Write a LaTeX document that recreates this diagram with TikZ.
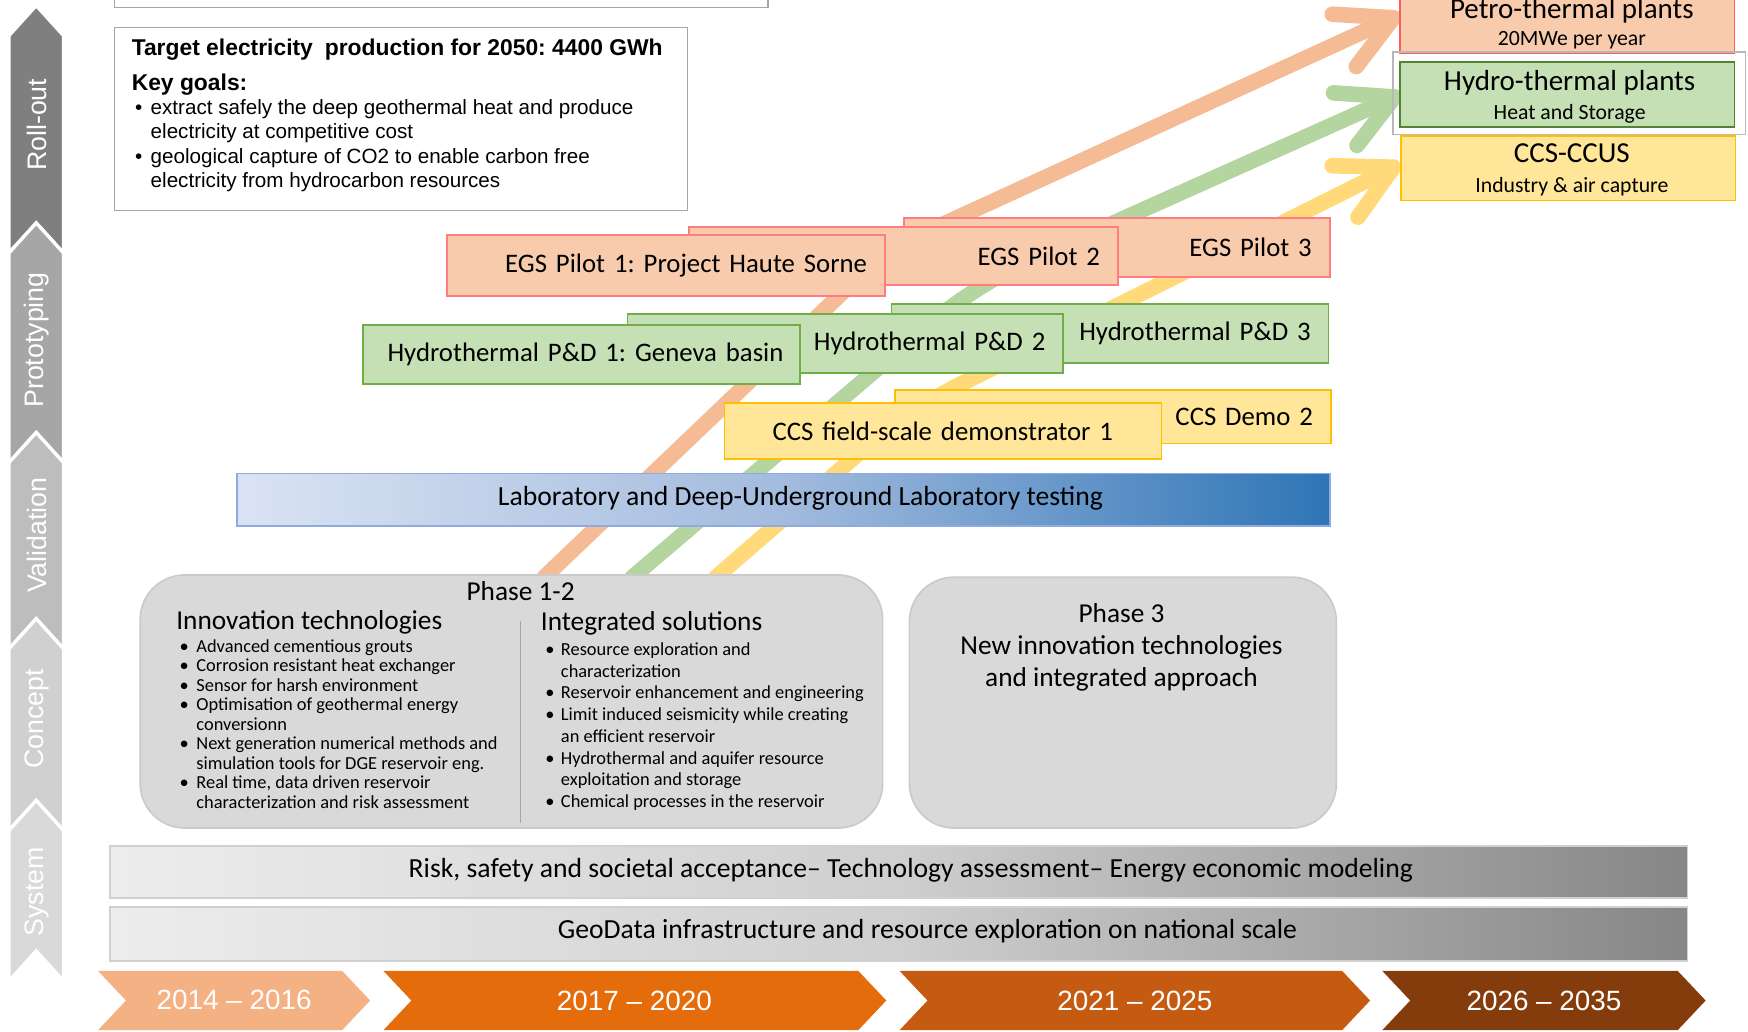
\documentclass[tikz,border=0pt]{standalone}
\usepackage{fontspec}
\setmainfont{Carlito}
\newfontfamily\arialf{Liberation Sans}
\usetikzlibrary{calc}
\definecolor{egsfill}{HTML}{F8CBAD}
\definecolor{egsdraw}{HTML}{FF7C80}
\definecolor{petdraw}{HTML}{FF5B5B}
\definecolor{hydfill}{HTML}{C5E0B4}
\definecolor{hyddraw}{HTML}{70AD47}
\definecolor{hydplant}{HTML}{548235}
\definecolor{ccsfill}{HTML}{FFE699}
\definecolor{ccsdraw}{HTML}{FFC000}
\definecolor{labL}{HTML}{DAE3F3}
\definecolor{labM}{HTML}{A3BBDE}
\definecolor{labR}{HTML}{2E75B6}
\definecolor{labdraw}{HTML}{8FAADC}
\definecolor{phfill}{HTML}{D9D9D9}
\definecolor{phdraw}{HTML}{CACACA}
\definecolor{barL}{HTML}{EDEDED}
\definecolor{barM}{HTML}{CFCFCF}
\definecolor{barR}{HTML}{868686}
\definecolor{bardraw}{HTML}{D0D0D0}
\definecolor{boxgray}{HTML}{A6A6A6}
\definecolor{arO}{HTML}{F4BB94}
\definecolor{arG}{HTML}{B4D5A0}
\definecolor{arY}{HTML}{FFD97A}
\definecolor{yrA}{HTML}{F4B183}
\definecolor{yrB}{HTML}{E46C0A}
\definecolor{yrC}{HTML}{C55A11}
\definecolor{yrD}{HTML}{843C0C}
\definecolor{sgA}{HTML}{7F7F7F}
\definecolor{sgB}{HTML}{A6A6A6}
\definecolor{sgC}{HTML}{BDBDBD}
\definecolor{sgD}{HTML}{D0D0D0}
\definecolor{sgE}{HTML}{D9D9D9}
\newcommand\bitem[2]{\par\hangindent=#1\relax\hangafter=1\relax\noindent\makebox[#1][l]{\hspace{3pt}•}#2}
\newcommand\vchev[3]{\filldraw[fill=#3, draw=white, line width=3pt, line join=miter] (8,{#1+27}) -- (32.5,#1) -- (57,{#1+27}) -- (57,{#2+27}) -- (32.5,#2) -- (8,{#2+27}) -- cycle;}
\newcommand\hchev[3]{\fill[#3] (#1,871) -- ({#2-25},871) -- (#2,897.5) -- ({#2-25},924) -- (#1,924) -- ({#1+25},897.5) -- cycle;}
\begin{document}
\frenchspacing
\begin{tikzpicture}[x=1pt,y=-1pt,
  bx/.style={draw, line width=1.5pt, inner sep=0pt, anchor=north west},
  lbl/.style={font=\fontsize{24}{28}\selectfont, inner xsep=16pt, inner ysep=0pt, align=right},
  egsbox/.style={bx, fill=egsfill, draw=egsdraw, lbl},
  hydbox/.style={bx, fill=hydfill, draw=hyddraw, lbl},
  ccsbox/.style={bx, fill=ccsfill, draw=ccsdraw, lbl},
  phase/.style={bx, fill=phfill, draw=phdraw, rounded corners=40pt},
  bar/.style={bx, draw=bardraw, left color=barL, right color=barR, middle color=barM},
  bartext/.style={font=\fontsize{24.8}{28}\selectfont, inner sep=0pt},
  arr/.style={line width=14pt, line cap=round, line join=round},
  ptitle/.style={anchor=base, inner sep=0pt, font=\fontsize{26}{30}\selectfont},
  psub/.style={anchor=base, inner sep=0pt, font=\fontsize{19.5}{24}\selectfont},
  sidelbl/.style={rotate=90, inner sep=0pt, text=white, font=\arialf\fontsize{24}{28}\selectfont},
  yeartext/.style={inner sep=0pt, text=white, font=\arialf\fontsize{25}{30}\selectfont},
  headtext/.style={inner sep=0pt, font=\fontsize{24.5}{29}\selectfont}
]
\useasboundingbox (0,0) rectangle (1568,925);
\clip (0,0) rectangle (1568,925);

% ---------- arrows (behind everything) ----------
\coordinate (oS) at (488,518); \coordinate (oB) at (796,224); \coordinate (oT) at (1250,16);
\coordinate (gS) at (567,518); \coordinate (gB) at (876,255); \coordinate (gT) at (1251,87);
\coordinate (yS) at (642,518); \coordinate (yB) at (815,368); \coordinate (yT) at (1250,150);
\draw[arr, draw=arO, rounded corners=50pt] (oS) -- (oB) -- (oT);
\draw[arr, draw=arO] ($(oT)!55pt!28:(oB)$) -- (oT) -- ($(oT)!55pt!-28:(oB)$);
\draw[arr, draw=arG, rounded corners=50pt] (gS) -- (gB) -- (gT);
\draw[arr, draw=arG] ($(gT)!55pt!28:(gB)$) -- (gT) -- ($(gT)!55pt!-28:(gB)$);
\draw[arr, draw=arY, rounded corners=50pt] (yS) -- (yB) -- (yT);
\draw[arr, draw=arY] ($(yT)!55pt!28:(yB)$) -- (yT) -- ($(yT)!55pt!-28:(yB)$);

% ---------- left stage column ----------
\vchev{5}{200}{sgA}
\vchev{200}{388}{sgB}
\vchev{388}{555}{sgC}
\vchev{555}{718}{sgD}
\vchev{718}{853}{sgE}
\node[sidelbl] (sRoll) at (33,112) {Roll-out};
\node[sidelbl] (sProto) at (33,305) {Prototyping};
\node[sidelbl] (sValid) at (33,480) {Validation};
\node[sidelbl] (sConc) at (33,645) {Concept};
\node[sidelbl] (sSys) at (33,800) {System};

% ---------- top left boxes ----------
\node[bx, draw=boxgray, fill=white, minimum width=586pt, minimum height=26pt] (topbox) at (102,-20) {};
\node[bx, draw=boxgray, fill=white, minimum width=514pt, minimum height=164pt] (tgt) at (102,24) {};
\node[anchor=base west, inner sep=0pt, font=\arialf\bfseries\fontsize{20.5}{24}\selectfont] (tgtT) at (118,50) {Target electricity\hspace{5pt} production for 2050: 4400 GWh};
\node[anchor=base west, inner sep=0pt, font=\arialf\bfseries\fontsize{20.5}{24}\selectfont] (tgtK) at (118,81) {Key goals:};
\node[anchor=base west, inner sep=0pt, font=\arialf\fontsize{18.5}{22}\selectfont] (tgtL) at (118,102.5) {\parbox[t]{490pt}{%
\bitem{17pt}{extract safely the deep geothermal heat and produce\\electricity at competitive cost}
\bitem{17pt}{geological capture of CO2 to enable carbon free\\electricity from hydrocarbon resources}}};

% ---------- phase boxes ----------
\node[phase, minimum width=666pt, minimum height=227pt] (ph12) at (125,515) {};
\node[phase, minimum width=383pt, minimum height=225pt] (ph3) at (815,517) {};
\draw[draw=boxgray, line width=1.5pt] (467,557) -- (467,738);
\node[headtext] (ph12T) at (467,530) {Phase 1-2};
\node[headtext, anchor=base west] (innT) at (158,565) {Innovation technologies};
\node[headtext, anchor=base west] (intT) at (485,566) {Integrated solutions};
\node[anchor=base west, inner sep=0pt, font=\fontsize{16.5}{17.5}\selectfont] (innL) at (158,585) {\parbox[t]{320pt}{%
\bitem{18pt}{Advanced cementious grouts}
\bitem{18pt}{Corrosion resistant heat exchanger}
\bitem{18pt}{Sensor for harsh environment}
\bitem{18pt}{Optimisation of geothermal energy\\conversionn}
\bitem{18pt}{Next generation numerical methods and\\simulation tools for DGE reservoir eng.}
\bitem{18pt}{Real time, data driven reservoir\\characterization and risk assessment}}};
\node[anchor=base west, inner sep=0pt, font=\fontsize{16.5}{19.5}\selectfont] (intL) at (486,588) {\parbox[t]{310pt}{%
\bitem{17pt}{Resource exploration and\\characterization}
\bitem{17pt}{Reservoir enhancement and engineering}
\bitem{17pt}{Limit induced seismicity while creating\\an efficient reservoir}
\bitem{17pt}{Hydrothermal and aquifer resource\\exploitation and storage}
\bitem{17pt}{Chemical processes in the reservoir}}};
\node[headtext, anchor=base] (ph3T) at (1006,558) {\begin{tabular}[t]{@{}c@{}}Phase 3\\New innovation technologies\\and integrated approach\end{tabular}};

% ---------- lab bar ----------
\node[bx, draw=labdraw, left color=labL, right color=labR, middle color=labM, minimum width=980pt, minimum height=47pt] (lab) at (212,424) {};
\node[bartext] (labT) at (718,447) {Laboratory and Deep-Underground Laboratory testing};

% ---------- CCS ----------
\node[ccsbox, minimum width=391pt, minimum height=48pt, text width=359pt] (ccs2) at (802,349) {CCS Demo 2};
\node[ccsbox, minimum width=392pt, minimum height=50pt, text width=360pt, align=center] (ccs1) at (649,361) {CCS field-scale demonstrator 1};

% ---------- Hydrothermal ----------
\node[hydbox, minimum width=392pt, minimum height=53pt, text width=360pt] (hyd3) at (799,272) {Hydrothermal P\&D 3};
\node[hydbox, minimum width=391pt, minimum height=53pt, text width=359pt] (hyd2) at (562,281) {Hydrothermal P\&D 2};
\node[hydbox, minimum width=392pt, minimum height=53pt, text width=362pt, inner xsep=15pt] (hyd1) at (325,291) {Hydrothermal P\&D 1: Geneva basin};

% ---------- EGS ----------
\node[egsbox, minimum width=382pt, minimum height=53pt, text width=350pt] (egs3) at (810,195) {EGS Pilot 3};
\node[egsbox, minimum width=385pt, minimum height=52pt, text width=353pt] (egs2) at (617,203) {EGS Pilot 2};
\node[egsbox, minimum width=393pt, minimum height=55pt, text width=361pt] (egs1) at (400,210) {EGS Pilot 1: Project Haute Sorne};

% ---------- plants ----------
\node[bx, fill=egsfill, draw=petdraw, minimum width=300pt, minimum height=52pt] (petro) at (1255,-5) {};
\node[bx, draw=boxgray!80, minimum width=316pt, minimum height=74pt] (hgroup) at (1249,46) {};
\node[bx, fill=hydfill, draw=hydplant, minimum width=300pt, minimum height=58pt] (hydro) at (1255,55) {};
\node[bx, fill=ccsfill, draw=ccsdraw, minimum width=300pt, minimum height=58pt] (ccsp) at (1256,121) {};
\node[ptitle] (petroT) at (1410,17) {Petro-thermal plants};
\node[psub] (petroS) at (1410,40.5) {20MWe per year};
\node[ptitle] (hydroT) at (1408,81) {Hydro-thermal plants};
\node[psub] (hydroS) at (1408,107.5) {Heat and Storage};
\node[ptitle] (ccspT) at (1410,145.5) {CCS-CCUS};
\node[psub] (ccspS) at (1410,172.5) {Industry \& air capture};

% ---------- bottom bars ----------
\node[bar, minimum width=1415pt, minimum height=47pt] (risk) at (98,758) {};
\node[bartext] (riskT) at (817,781) {Risk, safety and societal acceptance– Technology assessment– Energy economic modeling};
\node[bar, minimum width=1415pt, minimum height=48pt] (geo) at (98,813) {};
\node[bartext] (geoT) at (832,835) {GeoData infrastructure and resource exploration on national scale};

% ---------- years ----------
\hchev{88}{332}{yrA}
\hchev{344}{795}{yrB}
\hchev{807}{1229}{yrC}
\hchev{1240}{1530}{yrD}
\node[yeartext] (y1) at (210,897) {2014 – 2016};
\node[yeartext] (y2) at (569,898) {2017 – 2020};
\node[yeartext] (y3) at (1018,898) {2021 – 2025};
\node[yeartext] (y4) at (1385,898) {2026 – 2035};
\end{tikzpicture}
\end{document}
